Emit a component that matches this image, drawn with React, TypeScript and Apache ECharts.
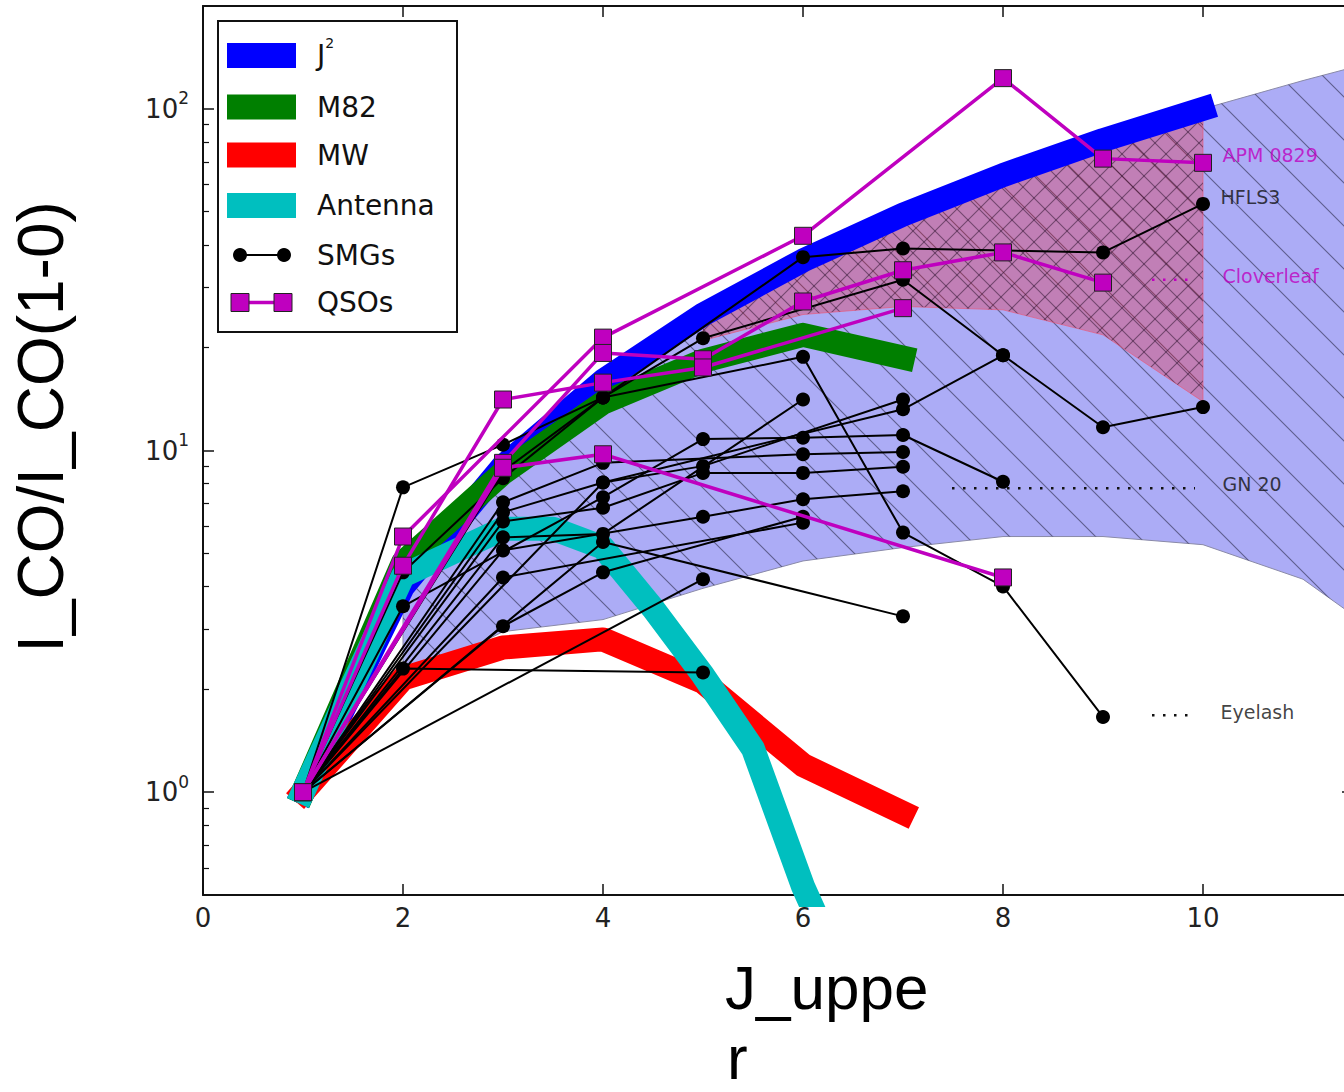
import React, { useEffect, useRef } from 'react';
import * as echarts from 'echarts';

// Model ladders: upper rotational level J and line ratio I_CO / I_CO(1-0)
const J2_J = [1, 2, 3, 4, 5, 6, 7, 8, 9, 10];
const J2_RATIO = [1, 4, 9, 16, 25, 36, 49, 64, 81, 100];
const M82_J = [1, 2, 3, 4, 5, 6, 7];
const M82_RATIO = [1, 4.7, 8.6, 13.8, 18.3, 21.8, 18.7];
const MW_J = [1, 2, 3, 4, 5, 6, 7];
const MW_RATIO = [1, 2.15, 2.65, 2.8, 2.1, 1.2, 0.87];
const ANT_J = [1, 2, 3, 3.5, 4, 4.5, 5, 5.5, 6, 6.5];
const ANT_RATIO = [1, 4.3, 5.9, 5.9, 5.2, 3.45, 2.2, 1.34, 0.53, 0.25];

// Shaded ranges (lower / upper envelopes)
const SMG_RANGE_J = [2, 3, 4, 5, 6, 7, 8, 9, 10, 11, 11.5];
const SMG_RANGE_LOW = [2.1, 2.95, 3.2, 3.95, 4.75, 5.2, 5.6, 5.6, 5.3, 4.2, 3.3];
const SMG_RANGE_HIGH = [4, 9, 16, 25, 36, 49, 64, 81, 100, 121, 132.25];
const QSO_RANGE_J = [5, 6, 7, 8, 9, 10];
const QSO_RANGE_LOW = [21, 25, 26.4, 25.8, 21.8, 13.9];
const QSO_RANGE_HIGH = [25, 36, 49, 64, 81, 100];

// Individual submillimetre galaxies: [J, ratio] pairs
const SMG_LADDERS: number[][][] = [
  [[1, 1], [2, 7.8], [3, 10.4], [4, 14.3], [6, 36.8], [7, 39], [9, 38], [10, 52.7]],
  [[1, 1], [3, 8.7], [4, 14.3], [5, 21.3], [7, 31.6], [8, 19], [9, 11.7], [10, 13.4]],
  [[1, 1], [2, 4.4], [3, 8.3], [4, 14.3], [6, 18.8], [7, 5.75], [8, 4.0], [9, 1.66]],
  [[1, 1], [2, 3.5], [4, 7.3], [5, 10.8], [6, 10.9], [7, 11.1], [8, 8.1]],
  [[1, 1], [2, 2.3], [5, 2.24]],
  [[1, 1], [4, 5.4], [7, 3.27]],
  [[1, 1], [5, 4.2]],
  [[1, 1], [3, 3.06], [4, 4.4], [6, 6.4]],
  [[1, 1], [3, 4.25], [6, 6.15]],
  [[1, 1], [3, 5.1], [5, 6.4], [6, 7.2], [7, 7.6]],
  [[1, 1], [3, 7.05], [4, 9.2], [6, 9.75], [7, 9.9]],
  [[1, 1], [3, 6.6], [4, 8.06], [5, 9.0], [7, 14.1]],
  [[1, 1], [3, 6.2], [4, 6.8], [5, 8.6], [6, 8.6], [7, 8.96]],
  [[1, 1], [3, 5.57], [4, 5.7], [6, 14.1]],
  [[1, 1], [4, 8.06], [7, 13.2], [8, 19]],
];

// Quasars: [J, ratio] pairs
const QSO_LADDERS: number[][][] = [
  [[1, 1], [2, 5.6], [4, 21.4], [6, 42.5], [8, 123], [9, 71.5], [10, 69.5]],
  [[1, 1], [3, 9.2], [4, 19.3], [5, 18.5], [6, 27.3], [7, 33.7], [8, 38], [9, 31]],
  [[1, 1], [2, 4.6], [3, 14.1], [4, 15.8], [5, 17.5], [7, 26.1]],
  [[1, 1], [3, 8.9], [4, 9.75], [8, 4.25]],
];

// Source names written beside the ladders
const NOTE_TEXT = ['APM 0829', 'HFLS3', 'Cloverleaf', 'GN 20', 'Eyelash'];
const NOTE_J = [10.19, 10.17, 10.19, 10.19, 10.17];
const NOTE_RATIO = [73.3, 55.3, 32.5, 7.96, 1.72];
const NOTE_COLOR = ['#bf00bf', '#111111', '#bf00bf', '#111111', '#111111'];

// Dotted leaders next to some names
const LEADER_J0 = [9.49, 7.49, 9.49];
const LEADER_J1 = [9.92, 9.92, 9.92];
const LEADER_RATIO = [31.6, 7.75, 1.68];
const LEADER_COLOR = ['#bf00bf', '#111111', '#111111'];

// Axis ticks
const Y_MAJOR = [1, 10, 100];
const Y_MINOR = [0.6, 0.7, 0.8, 0.9, 2, 3, 4, 5, 6, 7, 8, 9, 20, 30, 40, 50, 60, 70, 80, 90];

const LEGEND_ROWS = ['J2', 'M82', 'MW', 'Antenna', 'SMGs', 'QSOs'];
const LEGEND_COLORS = ['#0000ff', '#007f00', '#ff0000', '#00bfbf'];

// Axis titles (x title wraps onto a second line)
const Y_TITLE = 'I_CO/I_CO(1-0)';
const X_TITLE_LINES = ['J_uppe', 'r'];

const MAGENTA = '#bf00bf';
const FONT = 'DejaVu Sans';

function hatchTile(size: number, dirs: string[], color: string, width: number): string {
  const c = document.createElement('canvas');
  c.width = size;
  c.height = size;
  const g = c.getContext('2d') as CanvasRenderingContext2D;
  g.strokeStyle = color;
  g.lineWidth = width;
  for (const d of dirs) {
    for (let k = -1; k <= 1; k++) {
      g.beginPath();
      if (d === 'back') {
        g.moveTo(-size, -size + k * size);
        g.lineTo(2 * size, 2 * size + k * size);
      } else {
        g.moveTo(-size, 2 * size + k * size);
        g.lineTo(2 * size, -size + k * size);
      }
      g.stroke();
    }
  }
  return c.toDataURL();
}

function rangeSeries(xs: number[], lo: number[], hi: number[], fill: string, hatch: any, edge: string, z: number) {
  return {
    type: 'custom',
    silent: true,
    clip: true,
    z,
    data: [[xs[0], hi[0]]],
    renderItem: (_params: any, api: any) => {
      const top = xs.map((x, i) => api.coord([x, hi[i]]));
      const bottom = xs.map((x, i) => api.coord([x, lo[i]])).reverse();
      const points = top.concat(bottom);
      return {
        type: 'group',
        children: [
          { type: 'polygon', shape: { points }, style: { fill, stroke: edge, lineWidth: 1 } },
          { type: 'polygon', shape: { points }, style: { fill: hatch, stroke: null } },
        ],
      };
    },
  };
}

function bandSeries(name: string, xs: number[], ys: number[], color: string, z: number) {
  return {
    type: 'line',
    name,
    silent: true,
    z,
    symbol: 'none',
    showSymbol: false,
    clip: true,
    data: xs.map((x, i) => [x, ys[i]]),
    lineStyle: { color, width: 24, cap: 'square', join: 'round' },
  };
}

function buildLegend() {
  const rowY = [55.5, 107, 155, 205.5, 255, 302.5];
  const els: any[] = [
    {
      type: 'rect',
      z: 100,
      shape: { x: 218, y: 21, width: 239, height: 311 },
      style: { fill: '#ffffff', stroke: '#111111', lineWidth: 2 },
    },
  ];
  LEGEND_COLORS.forEach((c, i) => {
    els.push({
      type: 'rect',
      z: 101,
      shape: { x: 227, y: rowY[i] - 12.5, width: 69, height: 25 },
      style: { fill: c },
    });
  });
  els.push({
    type: 'line', z: 101,
    shape: { x1: 240, y1: rowY[4], x2: 284, y2: rowY[4] },
    style: { stroke: '#000', lineWidth: 2 },
  });
  [240, 284].forEach((cx) =>
    els.push({ type: 'circle', z: 102, shape: { cx, cy: rowY[4], r: 7 }, style: { fill: '#000' } })
  );
  els.push({
    type: 'line', z: 101,
    shape: { x1: 240, y1: rowY[5], x2: 283, y2: rowY[5] },
    style: { stroke: MAGENTA, lineWidth: 3.5 },
  });
  [240, 283].forEach((cx) =>
    els.push({
      type: 'rect', z: 102,
      shape: { x: cx - 9, y: rowY[5] - 9, width: 18, height: 18 },
      style: { fill: MAGENTA, stroke: '#222', lineWidth: 1 },
    })
  );
  LEGEND_ROWS.forEach((label, i) => {
    const isSq = label === 'J2';
    els.push({
      type: 'text', z: 102,
      x: 317, y: rowY[i],
      style: isSq
        ? {
            text: '{b|J}{s|2}',
            verticalAlign: 'middle',
            rich: {
              b: { fontSize: 28, fontFamily: FONT, fill: '#111', lineHeight: 40 },
              s: { fontSize: 14, fontFamily: FONT, fill: '#111', verticalAlign: 'top' },
            },
          }
        : { text: label, fontSize: 28, fontFamily: FONT, fill: '#111', verticalAlign: 'middle' },
    });
  });
  return els;
}

export default function App() {
  const ref = useRef<HTMLDivElement>(null);

  useEffect(() => {
    if (!ref.current) return;
    const chart = echarts.init(ref.current, null, { renderer: 'svg' });

    const diag = 43;
    const cross = 22;
    const smgHatch = {
      image: hatchTile(diag, ['back'], 'rgba(40,40,70,0.6)', 1.1),
      repeat: 'repeat',
      imageWidth: diag,
      imageHeight: diag,
    };
    const qsoHatch = {
      image: hatchTile(cross, ['back', 'fwd'], 'rgba(50,20,50,0.55)', 1.1),
      repeat: 'repeat',
      imageWidth: cross,
      imageHeight: cross,
    };

    const axisLine = { show: true, onZero: false, lineStyle: { color: '#111', width: 2 } };
    const majorTick = { show: true, inside: true, length: 11, lineStyle: { color: '#111', width: 1.5 } };

    const series: any[] = [
      rangeSeries(SMG_RANGE_J, SMG_RANGE_LOW, SMG_RANGE_HIGH, '#acacf6', smgHatch, '#8a8aa8', 1),
      rangeSeries(QSO_RANGE_J, QSO_RANGE_LOW, QSO_RANGE_HIGH, 'rgba(255,0,0,0.26)', qsoHatch, 'rgba(240,80,110,0.6)', 1),
      bandSeries('J2', J2_J, J2_RATIO, '#0000ff', 2),
      bandSeries('M82', M82_J, M82_RATIO, '#007f00', 2),
      bandSeries('MW', MW_J, MW_RATIO, '#ff0000', 2),
      bandSeries('Antenna', ANT_J, ANT_RATIO, '#00bfbf', 2),
    ];

    SMG_LADDERS.forEach((d) =>
      series.push({
        type: 'line', silent: true, z: 4, data: d,
        symbol: 'circle', symbolSize: 14, showSymbol: true,
        lineStyle: { color: '#000', width: 2 },
        itemStyle: { color: '#000' },
      })
    );
    QSO_LADDERS.forEach((d) =>
      series.push({
        type: 'line', silent: true, z: 5, data: d,
        symbol: 'rect', symbolSize: 17, showSymbol: true,
        lineStyle: { color: MAGENTA, width: 3.5 },
        itemStyle: { color: MAGENTA, borderColor: '#222', borderWidth: 1 },
      })
    );
    LEADER_RATIO.forEach((r, i) =>
      series.push({
        type: 'line', silent: true, z: 6, symbol: 'none',
        data: [[LEADER_J0[i], r], [LEADER_J1[i], r]],
        lineStyle: { color: LEADER_COLOR[i], width: 2.5, type: [2.5, 8.5] },
      })
    );
    series.push({
      type: 'scatter', silent: true, z: 7, symbolSize: 1,
      itemStyle: { color: 'rgba(0,0,0,0)' },
      data: NOTE_TEXT.map((t, i) => ({
        name: t,
        value: [NOTE_J[i], NOTE_RATIO[i]],
        label: { color: NOTE_COLOR[i] },
      })),
      label: { show: true, position: 'right', distance: 0, formatter: '{b}', fontSize: 19, fontFamily: FONT },
    });

    chart.setOption({
      animation: false,
      backgroundColor: '#ffffff',
      grid: { left: 203, top: 6, width: 1150, height: 889, show: false, outerBoundsMode: 'none' },
      xAxis: [
        {
          type: 'value', position: 'bottom', min: 0, max: 11.5, interval: 2,
          axisLine, axisTick: majorTick, splitLine: { show: false },
          axisLabel: {
            show: true, margin: 10, fontSize: 26, fontFamily: FONT, color: '#222',
            showMaxLabel: false,
            formatter: (v: number) => (v % 2 === 0 ? String(v) : ''),
          },
        },
        {
          type: 'value', position: 'top', min: 0, max: 11.5, interval: 2,
          axisLine, axisTick: majorTick, splitLine: { show: false }, axisLabel: { show: false },
        },
      ],
      yAxis: [
        {
          type: 'log', logBase: 10, position: 'left', min: 0.5, max: 200,
          axisLine, splitLine: { show: false },
          axisTick: { ...majorTick, customValues: Y_MAJOR },
          axisLabel: {
            show: true, margin: 14, customValues: Y_MAJOR,
            formatter: (v: number) => `{b|10}{s|${Math.round(Math.log10(v))}}`,
            rich: {
              b: { fontSize: 26, fontFamily: FONT, color: '#222', lineHeight: 38 },
              s: { fontSize: 17, fontFamily: FONT, color: '#222', verticalAlign: 'top' },
            },
          },
        },
        {
          type: 'log', logBase: 10, position: 'left', min: 0.5, max: 200,
          axisLine: { show: false }, splitLine: { show: false }, axisLabel: { show: false },
          axisTick: { show: true, inside: true, length: 6, customValues: Y_MINOR, lineStyle: { color: '#111', width: 1.2 } },
        },
        {
          type: 'log', logBase: 10, position: 'right', min: 0.5, max: 200,
          axisLine, splitLine: { show: false }, axisLabel: { show: false },
          axisTick: { ...majorTick, customValues: Y_MAJOR },
        },
      ],
      graphic: [
        ...buildLegend(),
        {
          type: 'text', z: 100, x: 41, y: 427, rotation: Math.PI / 2,
          style: {
            text: Y_TITLE, fontSize: 64, fontFamily: 'Liberation Sans',
            fill: '#000', align: 'center', verticalAlign: 'middle',
          },
        },
        {
          type: 'text', z: 100, x: 725, y: 987,
          style: {
            text: X_TITLE_LINES[0], fontSize: 62, lineHeight: 60, fontFamily: 'Liberation Sans',
            fill: '#000', align: 'left', verticalAlign: 'middle',
          },
        },
        {
          type: 'text', z: 100, x: 727, y: 1057,
          style: {
            text: X_TITLE_LINES[1], fontSize: 62, lineHeight: 60, fontFamily: 'Liberation Sans',
            fill: '#000', align: 'left', verticalAlign: 'middle',
          },
        },
      ],
      series,
    });

    return () => chart.dispose();
  }, []);

  return (
    <div style={{ position: 'fixed', left: 0, top: 0, width: 1344, height: 1092, overflow: 'hidden', background: '#fff' }}>
      <div ref={ref} style={{ width: 1400, height: 1092 }} />
    </div>
  );
}
